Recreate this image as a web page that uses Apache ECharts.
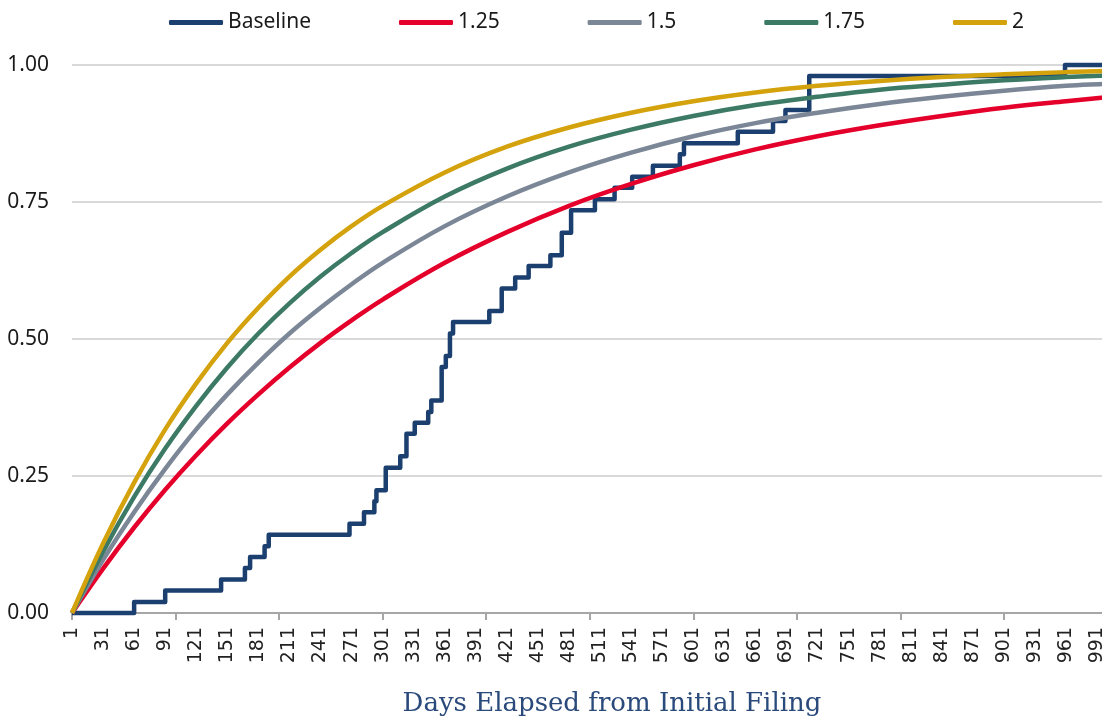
<!DOCTYPE html>
<html>
<head>
<meta charset="utf-8">
<script src="https://cdn.jsdelivr.net/npm/echarts@6/dist/echarts.min.js"></script>
<style>
html,body{margin:0;padding:0;overflow:hidden;background:#fff;}
#chart{width:1170px;height:719px;}
</style>
</head>
<body>
<div id="chart"></div>
<script>
// Sample days for the smooth curves
const curveDays = [1, 31, 61, 91, 121, 151, 181, 211, 241, 271, 301, 361, 421, 481, 541, 601, 661, 721, 781, 841, 901, 961, 1000, 1044];
const s125 = [0, 0.081, 0.156, 0.225, 0.288, 0.346, 0.399, 0.448, 0.493, 0.534, 0.572, 0.639, 0.695, 0.743, 0.783, 0.817, 0.846, 0.870, 0.890, 0.907, 0.922, 0.934, 0.941, 0.948];
const s150 = [0, 0.097, 0.184, 0.263, 0.335, 0.399, 0.457, 0.510, 0.557, 0.600, 0.639, 0.706, 0.760, 0.804, 0.840, 0.870, 0.894, 0.913, 0.929, 0.942, 0.953, 0.962, 0.966, 0.971];
const s175 = [0, 0.112, 0.212, 0.300, 0.378, 0.448, 0.510, 0.565, 0.614, 0.657, 0.695, 0.760, 0.811, 0.851, 0.882, 0.907, 0.927, 0.942, 0.955, 0.964, 0.972, 0.978, 0.981, 0.984];
const s200 = [0, 0.127, 0.238, 0.335, 0.419, 0.493, 0.557, 0.614, 0.663, 0.706, 0.743, 0.804, 0.851, 0.886, 0.913, 0.934, 0.950, 0.962, 0.971, 0.978, 0.983, 0.987, 0.989, 0.991];

// Baseline: days at which the step function changes and its new level
const baseDays = [1, 61, 91, 145, 168, 173, 187, 191, 269, 283, 293, 295, 304, 318, 324, 332, 345, 348, 358, 362, 366, 369, 404, 416, 429, 442, 463, 474, 483, 506, 525, 542, 562, 588, 592, 644, 678, 690, 713, 960, 1044];
const baseVals = [0, 0.020, 0.041, 0.061, 0.082, 0.102, 0.122, 0.143, 0.163, 0.184, 0.204, 0.224, 0.265, 0.286, 0.327, 0.347, 0.367, 0.388, 0.449, 0.469, 0.510, 0.531, 0.551, 0.592, 0.612, 0.633, 0.653, 0.694, 0.735, 0.755, 0.776, 0.796, 0.816, 0.837, 0.857, 0.878, 0.898, 0.918, 0.980, 1.0, 1.0];

const seriesNames = ['Baseline', '1.25', '1.5', '1.75', '2'];
const seriesColors = ['#1b3f6e', '#e4002b', '#7b8796', '#3d7a66', '#d4a20c'];
const yTicks = [0, 0.25, 0.5, 0.75, 1.0];
const xMaxDay = 1044;

const toPts = (days, vals) => days.map((d, i) => [d - 1, vals[i]]);
const curves = [s125, s150, s175, s200];

const series = [{
  name: seriesNames[0], type: 'line', step: 'end', symbol: 'none', clip: false,
  data: toPts(baseDays, baseVals),
  lineStyle: { width: 4.5, color: seriesColors[0], join: 'round' },
  itemStyle: { color: seriesColors[0] }
}];
curves.forEach((c, i) => {
  series.push({
    name: seriesNames[i + 1], type: 'line', smooth: 0.4, symbol: 'none',
    data: toPts(curveDays, c),
    lineStyle: { width: 4.5, color: seriesColors[i + 1] },
    itemStyle: { color: seriesColors[i + 1] }
  });
});

const chart = echarts.init(document.getElementById('chart'), null, { renderer: 'canvas' });
chart.setOption({
  animation: false,
  backgroundColor: '#fff',
  color: seriesColors,
  legend: {
    data: seriesNames,
    left: 164, top: 7,
    icon: 'roundRect', itemWidth: 54, itemHeight: 5, itemGap: 88,
    textStyle: { fontFamily: 'Noto Sans', fontSize: 21, color: '#1a1a1a' }
  },
  grid: { left: 72, top: 65, width: 1080, height: 548, containLabel: false, outerBoundsMode: 'none' },
  xAxis: [{
    type: 'value', min: 0, max: xMaxDay - 1, interval: 30,
    name: 'Days Elapsed from Initial Filing', nameLocation: 'middle', nameGap: 78,
    nameTextStyle: { fontFamily: 'DejaVu Serif', fontSize: 26, color: '#2a4a7b' },
    axisLine: { show: true, lineStyle: { color: '#a6a6a6', width: 2 } },
    axisTick: { show: false },
    splitLine: { show: false },
    axisLabel: {
      rotate: 90, margin: 14, showMaxLabel: false,
      fontFamily: 'DejaVu Sans', fontSize: 19, color: '#222',
      formatter: v => (v % 30 === 0 ? String(v + 1) : '')
    }
  }, {
    type: 'value', min: 0, max: xMaxDay - 1, interval: 100, position: 'bottom',
    axisLine: { show: false }, axisLabel: { show: false }, splitLine: { show: false },
    axisTick: { show: true, length: 7, lineStyle: { color: '#a6a6a6', width: 2 } }
  }],
  yAxis: {
    type: 'value', min: yTicks[0], max: yTicks[yTicks.length - 1], interval: 0.25,
    axisLine: { show: false }, axisTick: { show: false },
    splitLine: { lineStyle: { color: '#d9d9d9', width: 2 } },
    axisLabel: { margin: 23, fontFamily: 'Noto Sans', fontSize: 21, color: '#1a1a1a', formatter: v => v.toFixed(2) }
  },
  series: series
});
</script>
</body>
</html>
